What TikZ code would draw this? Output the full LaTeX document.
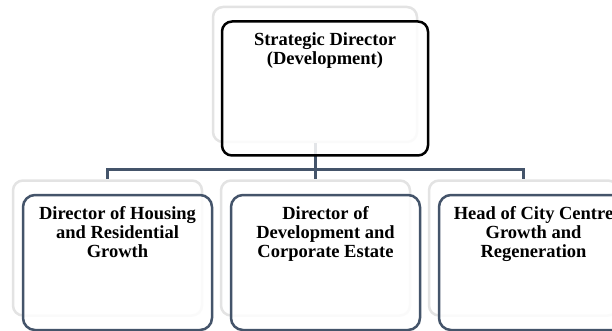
\documentclass[tikz,border=0pt]{standalone}
\usepackage{fontspec}
\setmainfont{Liberation Serif}
\usepackage{tikz}
\definecolor{slate}{HTML}{44546A}
\definecolor{shadowgrey}{HTML}{E3E3E3}
\tikzstyle{back-node}=[fill=white,draw=shadowgrey,line width=2.5pt,rounded corners=10pt,inner sep=0pt]
\tikzstyle{top-node}=[fill=white,fill opacity=0.85,draw=black,line width=2.5pt,rounded corners=10pt,inner sep=0pt,minimum width=206pt,minimum height=134pt]
\tikzstyle{child-node}=[fill=white,fill opacity=0.85,draw=slate,line width=2.5pt,rounded corners=12pt,inner sep=0pt,minimum width=189pt,minimum height=135pt]
\tikzstyle{label-node}=[anchor=north,inner sep=0pt,align=center,font=\fontsize{18.5}{19}\selectfont\bfseries]
\tikzstyle{link}=[draw=slate,line width=3pt]

\begin{document}
\begin{tikzpicture}[x=1pt,y=-1pt]
        \useasboundingbox (0,0) rectangle (612,331);
        \begin{scope}
            % shadows behind the boxes
            \node[back-node,minimum width=204pt,minimum height=135pt] at (315,74.5) (sb) {};
            \node[back-node,minimum width=189pt,minimum height=135pt] at (107.5,248) (b0) {};
            \node[back-node,minimum width=189pt,minimum height=135pt] at (315.5,248) (b1) {};
            \node[back-node,minimum width=189pt,minimum height=135pt] at (523.5,248) (b2) {};

            % links
            \coordinate (bar) at (315,169);
            \draw[link] (sb.south) -- (bar);
            \foreach \a in {0, 1, 2}{
                \draw[link] (bar) -| (b\a.north);
            }

            % boxes
            \node[top-node] at (325,88.5) (s) {};
            \node[child-node] at (117.5,262.5) (c0) {};
            \node[child-node] at (325.5,262.5) (c1) {};
            \node[child-node] at (533.5,262.5) (c2) {};

            % texts
            \node[label-node] at ([yshift=-12.5pt]s.north) (st) {Strategic Director\\(Development)};
            \node[label-node] at ([yshift=-13pt]c0.north) (t0) {Director of Housing\\and Residential\\Growth};
            \node[label-node] at ([yshift=-13pt]c1.north) (t1) {Director of\\Development and\\Corporate Estate};
            \node[label-node] at ([yshift=-13pt]c2.north) (t2) {Head of City Centre\\Growth and\\Regeneration};
        \end{scope}
    \end{tikzpicture}
\end{document}
